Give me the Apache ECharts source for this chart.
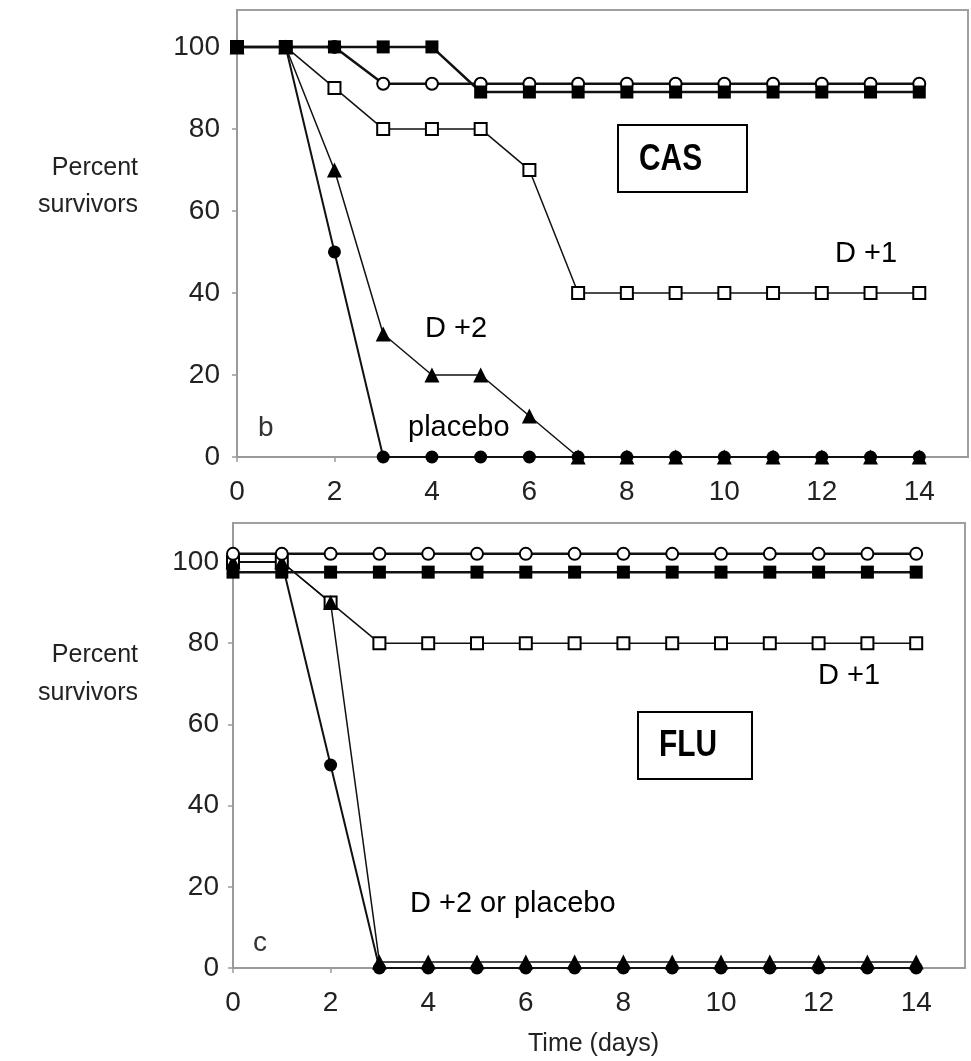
<!DOCTYPE html>
<html>
<head>
<meta charset="utf-8">
<script src="https://cdn.jsdelivr.net/npm/echarts@6/dist/echarts.min.js"></script>
<style>
html,body{margin:0;padding:0;background:#fff;}
#chart{width:971px;height:1061px;}
</style>
</head>
<body>
<div id="chart"></div>
<script>
// ---- data ----
const days = [0,1,2,3,4,5,6,7,8,9,10,11,12,13,14];
const xTickLabels = [0,2,4,6,8,10,12,14];
const yTickLabels = [0,20,40,60,80,100];

// Panel b: CAS
const casOpenCircle   = [100,100,100,91,91,91,91,91,91,91,91,91,91,91,91];
const casFilledSquare = [100,100,100,100,100,89,89,89,89,89,89,89,89,89,89];
const casD1           = [100,100,90,80,80,80,70,40,40,40,40,40,40,40,40];
const casD2           = [100,100,70,30,20,20,10,0,0,0,0,0,0,0,0];
const casPlacebo      = [100,100,50,0,0,0,0,0,0,0,0,0,0,0,0];

// Panel c: FLU
const fluOpenCircle   = [102,102,102,102,102,102,102,102,102,102,102,102,102,102,102];
const fluFilledSquare = [97.5,97.5,97.5,97.5,97.5,97.5,97.5,97.5,97.5,97.5,97.5,97.5,97.5,97.5,97.5];
const fluD1           = [100,100,90,80,80,80,80,80,80,80,80,80,80,80,80];
const fluD2           = [100,100,90,1.5,1.5,1.5,1.5,1.5,1.5,1.5,1.5,1.5,1.5,1.5,1.5];
const fluPlacebo      = [100,100,50,0,0,0,0,0,0,0,0,0,0,0,0];

// ---- helpers ----
const pairs = vals => days.map((d,i)=>[d, vals[i]]);
const FONT = "'Liberation Sans', Arial, Helvetica, sans-serif";

const STYLES = {
  openCircle:   {symbol:'circle', size:12, fill:'#fff', border:'#000', bw:2, lw:2.5},
  filledSquare: {symbol:'rect', size:13, fill:'#000', border:'#000', bw:0, lw:2.5},
  openSquare:   {symbol:'rect', size:12, fill:'#fff', border:'#000', bw:2, lw:1.5},
  triangle:     {symbol:'triangle', size:15, fill:'#000', border:'#000', bw:0, lw:1.5},
  filledCircle: {symbol:'circle', size:13, fill:'#000', border:'#000', bw:0, lw:2}
};

function mkSeries(name, vals, kind, idx){
  const s = STYLES[kind];
  return {
    name, type:'line', xAxisIndex:idx, yAxisIndex:idx,
    data: pairs(vals),
    symbol: s.symbol, symbolSize: s.size, showSymbol:true,
    lineStyle:{color:'#111', width:s.lw},
    itemStyle:{color:s.fill, borderColor:s.border, borderWidth:s.bw},
    emphasis:{disabled:true},
    clip:false, silent:true
  };
}

function xAxisCfg(idx){
  return {
    type:'value', gridIndex:idx, min:0, max:15,
    axisLine:{show:true, onZero:false, lineStyle:{color:'#9a9a9a', width:2}},
    axisTick:{show:true, length:5, customValues:xTickLabels, lineStyle:{color:'#9a9a9a', width:1.5}},
    axisLabel:{customValues:xTickLabels, fontSize:28, color:'#222', margin:21, fontFamily:FONT,
      formatter: v => (v % 2 === 0 && v <= 14) ? String(v) : ''},
    splitLine:{show:false}
  };
}
function yAxisCfg(idx, max, margin){
  return {
    type:'value', gridIndex:idx, min:0, max:max,
    axisLine:{show:true, onZero:false, lineStyle:{color:'#9a9a9a', width:2}},
    axisTick:{show:true, length:5, customValues:yTickLabels, lineStyle:{color:'#9a9a9a', width:1.5}},
    axisLabel:{customValues:yTickLabels, fontSize:28, color:'#222', margin:margin, fontFamily:FONT,
      formatter: v => (v % 20 === 0 && v <= 100) ? String(v) : ''},
    splitLine:{show:false}
  };
}

function txt(text, x, y, size, opts){
  opts = opts || {};
  return {
    type:'text', x:x, y:y, silent:true, z:100,
    style:{
      text:text, fill:opts.fill || '#000',
      font:(opts.weight || 'normal') + ' ' + size + 'px ' + FONT,
      textAlign:opts.align || 'left', textVerticalAlign:'middle'
    }
  };
}
// condensed bold label (horizontally scaled)
function narrowTxt(text, x, y, size){
  return {
    type:'group', x:x, y:y, scaleX:0.83, silent:true, z:100,
    children:[{
      type:'text', x:0, y:0, silent:true, z:100,
      style:{text:text, fill:'#000', font:'bold ' + size + 'px ' + FONT,
        textAlign:'left', textVerticalAlign:'middle'}
    }]
  };
}
function box(x, y, w, h){
  return {type:'rect', shape:{x:x, y:y, width:w, height:h}, silent:true, z:90,
    style:{fill:'#fff', stroke:'#000', lineWidth:2}};
}

const chart = echarts.init(document.getElementById('chart'), null, {renderer:'canvas'});
chart.setOption({
  animation:false,
  backgroundColor:'#fff',
  grid:[
    {left:237, top:10, width:731, height:447, show:true, borderColor:'#a0a0a0', borderWidth:2, backgroundColor:'transparent'},
    {left:233, top:523, width:732, height:445, show:true, borderColor:'#a0a0a0', borderWidth:2, backgroundColor:'transparent'}
  ],
  xAxis:[xAxisCfg(0), xAxisCfg(1)],
  yAxis:[yAxisCfg(0, 109, 17), yAxisCfg(1, 109.6, 14)],
  series:[
    mkSeries('CAS placebo', casPlacebo, 'filledCircle', 0),
    mkSeries('CAS D +2', casD2, 'triangle', 0),
    mkSeries('CAS D +1', casD1, 'openSquare', 0),
    mkSeries('CAS open circle', casOpenCircle, 'openCircle', 0),
    mkSeries('CAS filled square', casFilledSquare, 'filledSquare', 0),

    mkSeries('FLU placebo', fluPlacebo, 'filledCircle', 1),
    mkSeries('FLU D +1', fluD1, 'openSquare', 1),
    mkSeries('FLU D +2', fluD2, 'triangle', 1),
    mkSeries('FLU open circle', fluOpenCircle, 'openCircle', 1),
    mkSeries('FLU filled square', fluFilledSquare, 'filledSquare', 1)
  ],
  graphic:[
    // y-axis titles
    txt('Percent', 138, 168, 25, {align:'right', fill:'#222'}),
    txt('survivors', 138, 205, 25, {align:'right', fill:'#222'}),
    txt('Percent', 138, 655, 25, {align:'right', fill:'#222'}),
    txt('survivors', 138, 693, 25, {align:'right', fill:'#222'}),
    // x-axis title
    txt('Time (days)', 528, 1044, 25, {fill:'#222'}),
    // panel b annotations
    box(618, 125, 129, 67),
    narrowTxt('CAS', 639, 160, 36),
    txt('D +1', 835, 254, 29),
    txt('D +2', 425, 329, 29),
    txt('placebo', 408, 428, 29),
    txt('b', 258, 428, 28, {fill:'#333'}),
    // panel c annotations
    box(638, 712, 114, 67),
    narrowTxt('FLU', 659, 746, 36),
    txt('D +1', 818, 676, 29),
    txt('D +2 or placebo', 410, 904, 29),
    txt('c', 253, 943, 28, {fill:'#333'})
  ]
});
</script>
</body>
</html>
